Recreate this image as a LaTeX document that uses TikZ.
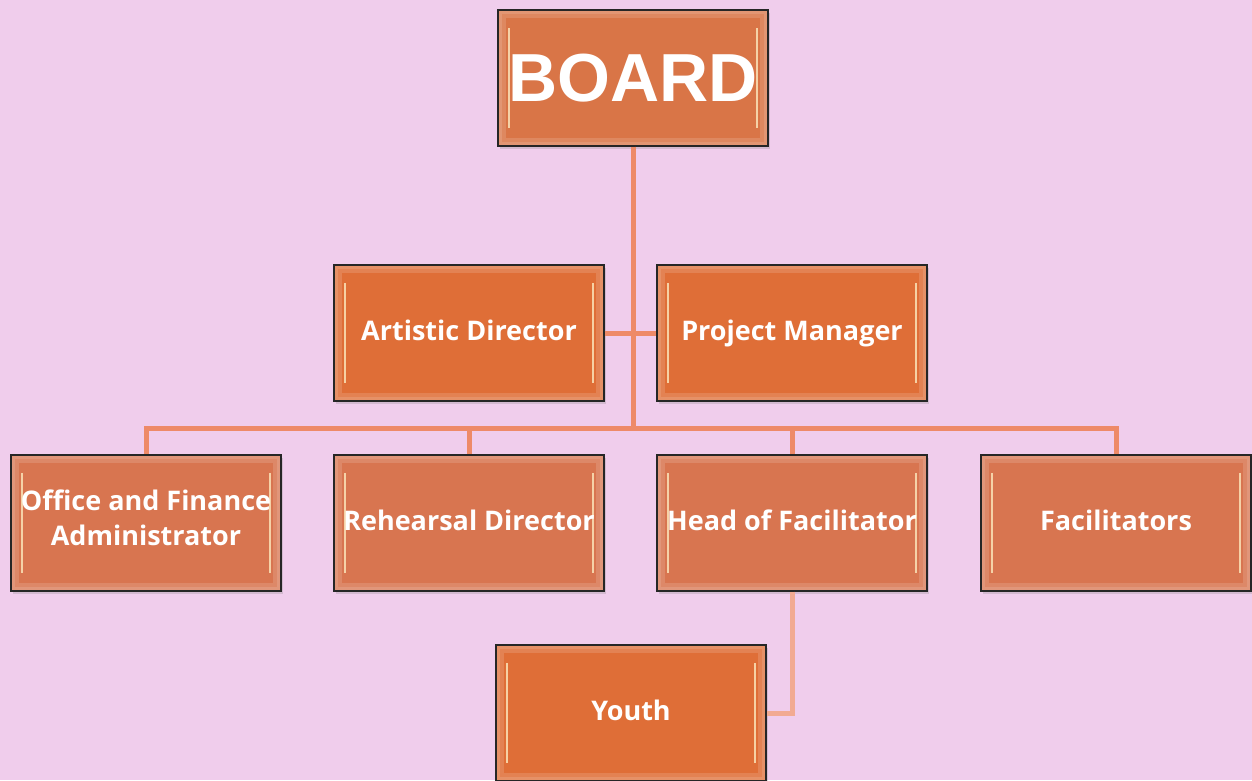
\documentclass[tikz,border=0pt]{standalone}
\usepackage{fontspec}
\setmainfont{Open Sans}
\newfontfamily\boardfont{Liberation Sans}
\usetikzlibrary{shadows}

\definecolor{bgpink}{HTML}{F0CDEC}
\definecolor{boxdark}{HTML}{DF6E37}
\definecolor{boxsoft}{HTML}{D87550}
\definecolor{boxboard}{HTML}{D97547}
\definecolor{linkline}{HTML}{EE8A68}
\definecolor{linklight}{HTML}{F2AA92}
\definecolor{bevelcream}{HTML}{FBE3B8}

\tikzset{
  orgbox/.style={draw=black!85, line width=1.3pt, fill=#1,
    minimum width=270pt, minimum height=136pt, inner sep=2pt,
    text=white, align=center,
    drop shadow={opacity=0.25, shadow xshift=2pt, shadow yshift=-3pt},
    path picture={
      \draw[white, opacity=0.14, line width=8pt]
        ([shift={(4pt,-4pt)}]path picture bounding box.north west) rectangle
        ([shift={(-4pt,4pt)}]path picture bounding box.south east);
      \draw[white, opacity=0.12, line width=4pt]
        ([shift={(2pt,-2pt)}]path picture bounding box.north west) rectangle
        ([shift={(-2pt,2pt)}]path picture bounding box.south east);
      \draw[bevelcream, line width=2.5pt, opacity=0.85]
        ([shift={(11pt,-18pt)}]path picture bounding box.north west) --
        ([shift={(11pt,18pt)}]path picture bounding box.south west);
      \draw[bevelcream, line width=2.5pt, opacity=0.85]
        ([shift={(-11pt,-18pt)}]path picture bounding box.north east) --
        ([shift={(-11pt,18pt)}]path picture bounding box.south east);
    }},
  orgbox/.default=boxsoft,
  rolebox/.style={orgbox=#1, font=\fontsize{27}{35}\selectfont\bfseries,
    execute at begin node=\strut, execute at end node=\strut},
  rolebox/.default=boxsoft,
  link/.style={draw=linkline, line width=5pt},
  sublink/.style={draw=linklight, line width=5pt}
}

\begin{document}
\begin{tikzpicture}[x=1pt, y=-1pt]
  \useasboundingbox (0,0) rectangle (1252,780);
  \fill[bgpink] (0,0) rectangle (1252,780);

  % top
  \node[orgbox=boxboard, font=\boardfont\fontsize{68}{70}\selectfont\bfseries] (board) at (633,78) {BOARD};

  % second row
  \node[rolebox=boxdark] (artistic) at (469,333) {Artistic Director};
  \node[rolebox=boxdark] (project) at (792,333) {Project Manager};

  % third row
  \node[rolebox] (office) at (146,523) {Office and Finance\\Administrator};
  \node[rolebox] (rehearsal) at (469,523) {Rehearsal Director};
  \node[rolebox] (headfac) at (792,523) {Head of Facilitator};
  \node[rolebox] (facil) at (1116,523) {Facilitators};

  % bottom
  \node[rolebox=boxdark] (youth) at (631,713) {Youth};

  \coordinate (bus) at (633,428);
  \draw[link] (board.south) -- (bus);
  \draw[link] (artistic.east) -- (project.west);
  \draw[link] (bus) -| (office.north);
  \draw[link] (bus) -| (rehearsal.north);
  \draw[link] (bus) -| (headfac.north);
  \draw[link] (bus) -| (facil.north);
  \draw[sublink] (headfac.south) |- (youth.east);
\end{tikzpicture}
\end{document}
